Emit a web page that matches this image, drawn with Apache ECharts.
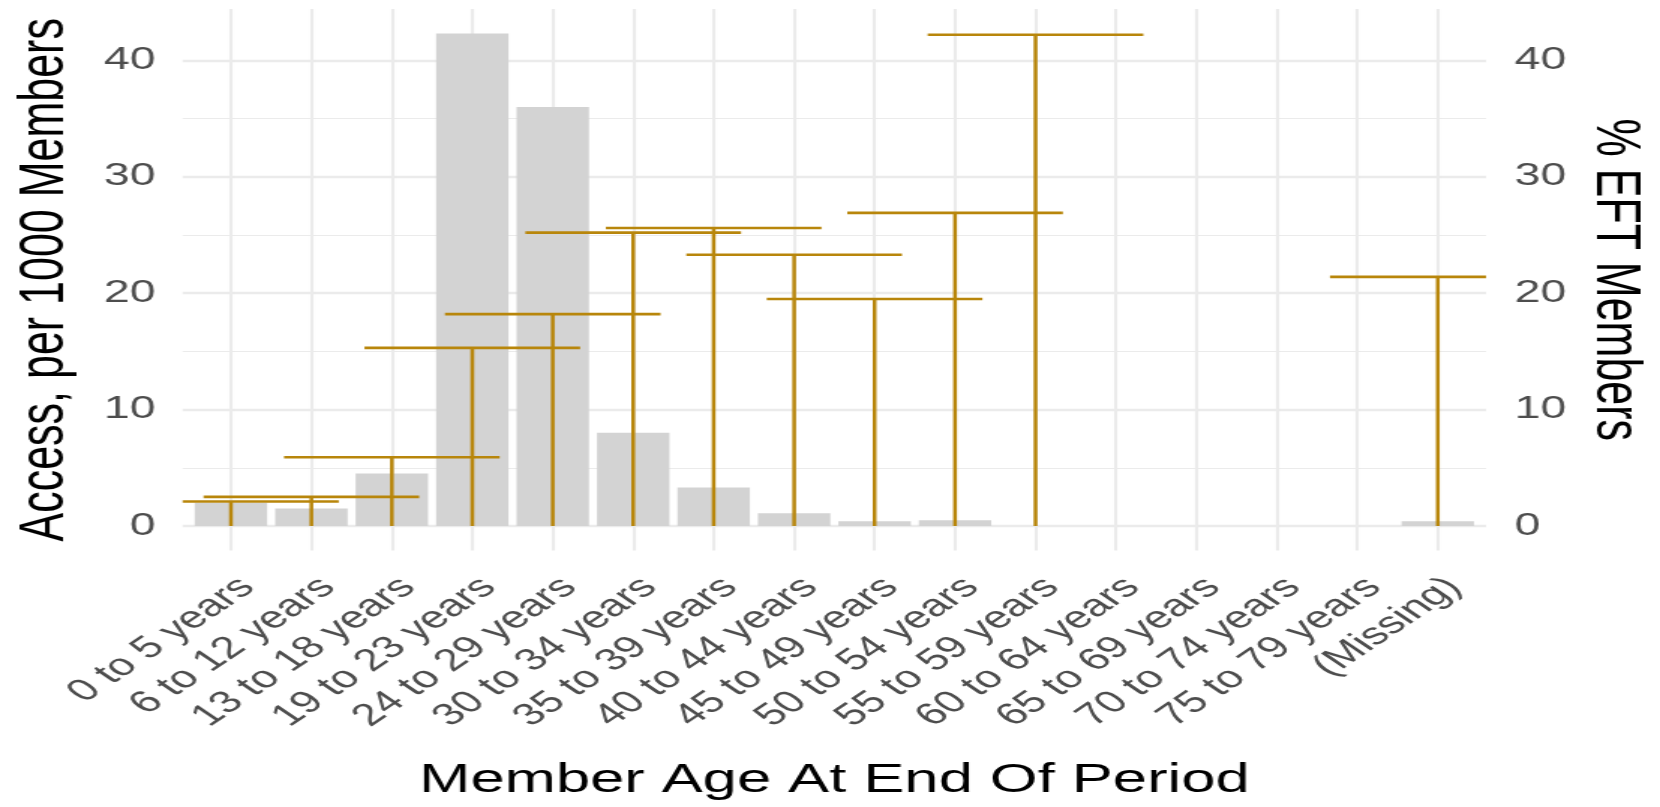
<!DOCTYPE html>
<html>
<head>
<meta charset="utf-8">
<script src="https://cdn.jsdelivr.net/npm/echarts@6/dist/echarts.min.js"></script>
<style>
html,body{margin:0;padding:0;background:#fff;overflow:hidden;width:1660px;height:807px;}
#chart{width:1107px;height:807px;transform:scaleX(1.49955);transform-origin:0 0;}
</style>
</head>
<body>
<div id="chart"></div>
<script>
// ---- data ----
const categories = ['0 to 5 years','6 to 12 years','13 to 18 years','19 to 23 years','24 to 29 years',
  '30 to 34 years','35 to 39 years','40 to 44 years','45 to 49 years','50 to 54 years','55 to 59 years',
  '60 to 64 years','65 to 69 years','70 to 74 years','75 to 79 years','(Missing)'];
const accessPer1000 = [2.0, 1.5, 4.5, 42.3, 36.0, 8.0, 3.3, 1.1, 0.4, 0.5, 0, null, null, null, null, 0.4];
const pctEFT = [2.1, 2.5, 5.9, 15.3, 18.2, 25.2, 25.6, 23.3, 19.5, 26.9, 42.2, null, null, null, null, 21.4];
const yTicks = [0, 10, 20, 30, 40];
const yMinorTicks = [5, 15, 25, 35];

// ---- styles ----
const GOLD = '#B8860B', BAR = '#D3D3D3', GRIDC = '#EBEBEB', LABEL = '#4D4D4D';
const FONT = '"Liberation Sans", Arial, sans-serif';
const BAR_HALF = 0.45, CAP_HALF = 1.34;
const yMin = -2.115, yMax = 44.415;

const catIndex = categories.map((c, i) => i);
const barData = categories.map((c, i) => [i, accessPer1000[i]]).filter(d => d[1] != null);
const eftData = categories.map((c, i) => [i, pctEFT[i]]).filter(d => d[1] != null);

const chart = echarts.init(document.getElementById('chart'), null, {renderer: 'canvas'});
const option = {
  animation: false,
  backgroundColor: '#ffffff',
  grid: {left: 121.8, right: 116, top: 9, bottom: 256.4, containLabel: false, outerBoundsMode: 'none'},
  xAxis: {
    type: 'value', min: -0.6, max: 15.6,
    name: 'Member Age At End Of Period', nameLocation: 'middle', nameGap: 210,
    nameTextStyle: {fontFamily: FONT, fontSize: 41, color: '#000'},
    axisLine: {show: false},
    axisTick: {show: false, customValues: catIndex},
    axisLabel: {customValues: catIndex, formatter: v => categories[Math.round(v)], rotate: 45,
      fontFamily: FONT, fontSize: 31, color: LABEL, margin: 21, verticalAlign: 'top', align: 'right'},
    splitLine: {show: true, lineStyle: {color: GRIDC, width: 2.1}}
  },
  yAxis: [
    {type: 'value', min: yMin, max: yMax, position: 'left',
      name: 'Access, per 1000 Members', nameLocation: 'middle', nameGap: 70, nameRotate: 90,
      nameTextStyle: {fontFamily: FONT, fontSize: 43, color: '#000'},
      axisLine: {show: false}, axisTick: {show: false, customValues: yTicks},
      axisLabel: {customValues: yTicks, fontFamily: FONT, fontSize: 31, color: LABEL, margin: 18},
      splitLine: {show: true, lineStyle: {color: GRIDC, width: 2.4}}},
    {type: 'value', min: yMin, max: yMax, position: 'right',
      name: '% EFT Members', nameLocation: 'middle', nameGap: 63, nameRotate: -90,
      nameTextStyle: {fontFamily: FONT, fontSize: 43, color: '#000'},
      axisLine: {show: false}, axisTick: {show: false, customValues: yTicks},
      axisLabel: {customValues: yTicks, fontFamily: FONT, fontSize: 31, color: LABEL, margin: 19},
      splitLine: {show: false}},
    {type: 'value', min: yMin, max: yMax, position: 'left',
      axisLine: {show: false}, axisTick: {show: false, customValues: yMinorTicks},
      axisLabel: {show: false},
      splitLine: {show: true, lineStyle: {color: GRIDC, width: 1.2}}}
  ],
  series: [
    {
      type: 'custom', name: 'Access, per 1000 Members', xAxisIndex: 0, yAxisIndex: 0,
      data: barData, encode: {x: 0, y: 1},
      renderItem: function (params, api) {
        const x = api.value(0), y = api.value(1);
        const p0 = api.coord([x - BAR_HALF, 0]);
        const p1 = api.coord([x + BAR_HALF, y]);
        return {type: 'rect', shape: {x: p0[0], y: p1[1], width: p1[0] - p0[0], height: p0[1] - p1[1]},
          style: {fill: BAR}};
      }
    },
    {
      type: 'custom', name: '% EFT Members', xAxisIndex: 0, yAxisIndex: 1,
      data: eftData, encode: {x: 0, y: 1},
      renderItem: function (params, api) {
        const x = api.value(0), y = api.value(1);
        const cs = params.coordSys;
        const base = api.coord([x, 0]);
        const top = api.coord([x, y]);
        let l = api.coord([x - CAP_HALF, y])[0];
        let r = api.coord([x + CAP_HALF, y])[0];
        l = Math.max(l, cs.x); r = Math.min(r, cs.x + cs.width);
        return {type: 'group', children: [
          {type: 'line', shape: {x1: base[0], y1: base[1], x2: top[0], y2: top[1]}, style: {stroke: GOLD, lineWidth: 2.5}},
          {type: 'line', shape: {x1: l, y1: top[1], x2: r, y2: top[1]}, style: {stroke: GOLD, lineWidth: 2.6}}
        ]};
      }
    }
  ]
};
chart.setOption(option);
</script>
</body>
</html>
